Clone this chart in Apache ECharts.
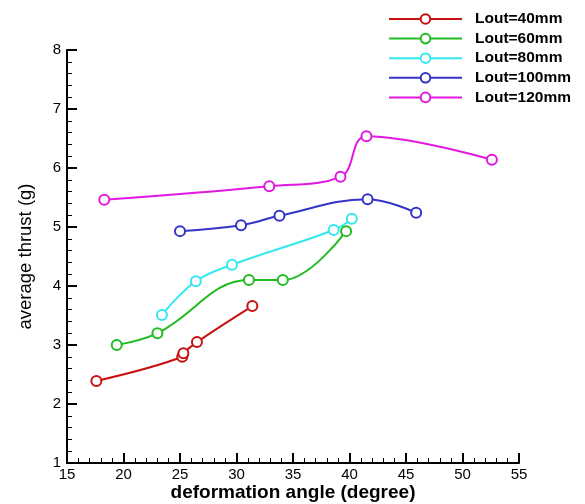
<!DOCTYPE html>
<html>
<head>
<meta charset="utf-8">
<script src="https://cdn.jsdelivr.net/npm/echarts@6/dist/echarts.min.js"></script>
<style>
  html, body { margin: 0; padding: 0; background: #fff; }
  #chart { width: 585px; height: 504px; }
</style>
</head>
<body>
<div id="chart"></div>
<script>
  // deformation angle (degree) / average thrust (g)
  const lout40 = [[17.6, 2.39], [25.2, 2.80], [25.3, 2.86], [26.5, 3.05], [31.4, 3.66]]
  const lout60 = [[19.4, 3.00], [23.0, 3.20], [31.1, 4.10], [34.1, 4.10], [39.7, 4.93]]
  const lout80 = [[23.4, 3.51], [26.4, 4.08], [29.6, 4.36], [38.6, 4.95], [40.2, 5.14]]
  const lout100 = [[25.0, 4.93], [30.4, 5.03], [33.8, 5.19], [41.6, 5.47], [45.9, 5.24]]
  const lout120 = [[18.3, 5.46], [32.9, 5.69], [39.2, 5.85], [41.5, 6.54], [52.6, 6.14]]
  const seriesNames = ['Lout=40mm', 'Lout=60mm', 'Lout=80mm', 'Lout=100mm', 'Lout=120mm']
  const seriesColors = ['#c81010', '#22bb22', '#33e8ee', '#3434c8', '#e018e0']

  const chart = echarts.init(document.getElementById('chart'))
  const font = 'Liberation Sans, Arial, sans-serif'

  function makeSeries (name, data, color) {
    return {
      name: name,
      type: 'line',
      data: data,
      smooth: 0.4,
      symbol: 'emptyCircle',
      symbolSize: 10,
      color: color,
      lineStyle: { width: 2, color: color },
      itemStyle: { color: color, borderWidth: 2 }
    }
  }

  const axisCommon = {
    axisLine: { lineStyle: { color: '#000', width: 2 } },
    axisTick: { inside: true, length: 10, lineStyle: { color: '#000', width: 2 } },
    minorTick: { show: true, splitNumber: 5, length: 5, lineStyle: { color: '#000', width: 1 } },
    splitLine: { show: false },
    axisLabel: { color: '#000', fontFamily: font, fontSize: 15 }
  }

  chart.setOption({
    animation: false,
    backgroundColor: '#fff',
    grid: { left: 67, right: 66, top: 50, bottom: 41, outerBoundsMode: 'none', containLabel: false },
    legend: {
      orient: 'vertical',
      left: 388,
      top: 11,
      padding: 0,
      itemWidth: 73,
      itemHeight: 12,
      itemGap: 3.6,
      data: seriesNames,
      textStyle: { color: '#000', fontFamily: font, fontSize: 15.5, fontWeight: 'bold', padding: [0, 0, 0, 8] }
    },
    xAxis: Object.assign({}, axisCommon, {
      type: 'value',
      min: 15,
      max: 55,
      interval: 5,
      name: 'deformation angle (degree)',
      nameLocation: 'middle',
      nameGap: 20,
      nameMoveOverlap: false,
      nameTextStyle: { color: '#000', fontFamily: font, fontSize: 19, fontWeight: 'bold' },
      axisLabel: Object.assign({}, axisCommon.axisLabel, { margin: 4 })
    }),
    yAxis: Object.assign({}, axisCommon, {
      type: 'value',
      min: 1,
      max: 8,
      interval: 1,
      name: 'average thrust (g)',
      nameLocation: 'middle',
      nameGap: 32,
      nameMoveOverlap: false,
      nameTextStyle: { color: '#000', fontFamily: font, fontSize: 18.5 },
      axisLabel: Object.assign({}, axisCommon.axisLabel, { margin: 6 })
    }),
    series: [
      makeSeries(seriesNames[0], lout40, seriesColors[0]),
      makeSeries(seriesNames[1], lout60, seriesColors[1]),
      makeSeries(seriesNames[2], lout80, seriesColors[2]),
      makeSeries(seriesNames[3], lout100, seriesColors[3]),
      makeSeries(seriesNames[4], lout120, seriesColors[4])
    ]
  })
</script>
</body>
</html>
